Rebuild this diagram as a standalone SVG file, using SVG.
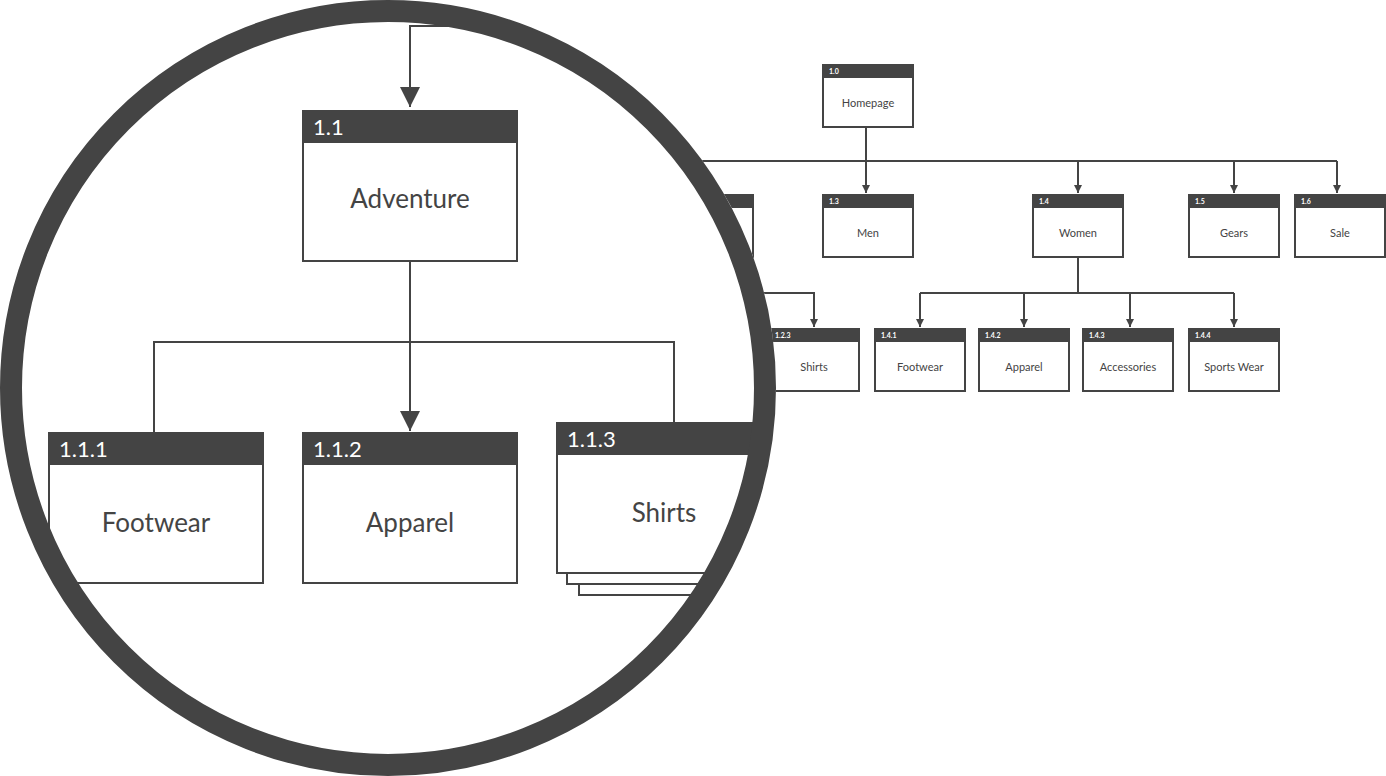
<svg xmlns="http://www.w3.org/2000/svg" width="1386" height="776" viewBox="0 0 1386 776">
<style>
.box{fill:#fff;stroke:#444;stroke-width:2}
.hdr{fill:#444}
.sid{font-family:Lato,"Open Sans",sans-serif;font-size:7px;font-weight:bold;fill:#fff}
.slb{font-family:Lato,"Open Sans",sans-serif;font-size:11px;fill:#444;text-anchor:middle}
.bid{font-family:Lato,"Open Sans",sans-serif;font-size:22px;fill:#fff}
.blb{font-family:Lato,"Open Sans",sans-serif;font-size:26px;fill:#444;text-anchor:middle}
.ln{fill:none;stroke:#444;stroke-width:2}
</style>
<defs>
<marker id="as" viewBox="0 0 10 10" refX="10" refY="5" markerWidth="10" markerHeight="8" markerUnits="userSpaceOnUse" orient="auto"><path d="M0,0 L10,5 L0,10 z" fill="#444"/></marker>
<marker id="ab" viewBox="0 0 10 10" refX="10" refY="5" markerWidth="20" markerHeight="20" markerUnits="userSpaceOnUse" orient="auto"><path d="M0,0 L10,5 L0,10 z" fill="#444"/></marker>
<clipPath id="lens"><circle cx="388" cy="388" r="377"/></clipPath>
</defs>
<rect width="1386" height="776" fill="#fff"/>
<g id="connectors">
<path class="ln" d="M866,127 V193" marker-end="url(#as)"/>
<path class="ln" d="M660,161 H1337"/>
<path class="ln" d="M1078,161 V193" marker-end="url(#as)"/>
<path class="ln" d="M1234,161 V193" marker-end="url(#as)"/>
<path class="ln" d="M1337,161 V193" marker-end="url(#as)"/>
<path class="ln" d="M1078,257 V293"/>
<path class="ln" d="M920,293 H1234"/>
<path class="ln" d="M920,293 V327" marker-end="url(#as)"/>
<path class="ln" d="M1024,293 V327" marker-end="url(#as)"/>
<path class="ln" d="M1130,293 V327" marker-end="url(#as)"/>
<path class="ln" d="M1234,293 V327" marker-end="url(#as)"/>
<path class="ln" d="M700,293 H814 V327" marker-end="url(#as)"/>
</g>
<g id="n1-0"><rect class="box" x="823" y="65" width="90" height="62"/><rect class="hdr" x="822" y="64" width="92" height="14"/><text class="sid" x="829" y="74">1.0</text><text class="slb" x="868" y="107">Homepage</text></g>
<g id="n1-2"><rect class="box" x="663" y="195" width="90" height="62"/><rect class="hdr" x="662" y="194" width="92" height="14"/></g>
<g id="n1-3"><rect class="box" x="823" y="195" width="90" height="62"/><rect class="hdr" x="822" y="194" width="92" height="14"/><text class="sid" x="829" y="204">1.3</text><text class="slb" x="868" y="237">Men</text></g>
<g id="n1-4"><rect class="box" x="1033" y="195" width="90" height="62"/><rect class="hdr" x="1032" y="194" width="92" height="14"/><text class="sid" x="1039" y="204">1.4</text><text class="slb" x="1078" y="237">Women</text></g>
<g id="n1-5"><rect class="box" x="1189" y="195" width="90" height="62"/><rect class="hdr" x="1188" y="194" width="92" height="14"/><text class="sid" x="1195" y="204">1.5</text><text class="slb" x="1234" y="237">Gears</text></g>
<g id="n1-6"><rect class="box" x="1295" y="195" width="90" height="62"/><rect class="hdr" x="1294" y="194" width="92" height="14"/><text class="sid" x="1301" y="204">1.6</text><text class="slb" x="1340" y="237">Sale</text></g>
<g id="n1-2-3"><rect class="box" x="769" y="329" width="90" height="62"/><rect class="hdr" x="768" y="328" width="92" height="14"/><text class="sid" x="775" y="338">1.2.3</text><text class="slb" x="814" y="371">Shirts</text></g>
<g id="n1-4-1"><rect class="box" x="875" y="329" width="90" height="62"/><rect class="hdr" x="874" y="328" width="92" height="14"/><text class="sid" x="881" y="338">1.4.1</text><text class="slb" x="920" y="371">Footwear</text></g>
<g id="n1-4-2"><rect class="box" x="979" y="329" width="90" height="62"/><rect class="hdr" x="978" y="328" width="92" height="14"/><text class="sid" x="985" y="338">1.4.2</text><text class="slb" x="1024" y="371">Apparel</text></g>
<g id="n1-4-3"><rect class="box" x="1083" y="329" width="90" height="62"/><rect class="hdr" x="1082" y="328" width="92" height="14"/><text class="sid" x="1089" y="338">1.4.3</text><text class="slb" x="1128" y="371">Accessories</text></g>
<g id="n1-4-4"><rect class="box" x="1189" y="329" width="90" height="62"/><rect class="hdr" x="1188" y="328" width="92" height="14"/><text class="sid" x="1195" y="338">1.4.4</text><text class="slb" x="1234" y="371">Sports Wear</text></g>
<circle cx="388" cy="388" r="388" fill="#fff"/>
<g id="magnified" clip-path="url(#lens)">
<g id="zoom-connectors">
<path class="ln" d="M560,26 H410 V107" marker-end="url(#ab)"/>
<path class="ln" d="M410,261 V431" marker-end="url(#ab)"/>
<path class="ln" d="M154,432 V342 H674 V422"/>
</g>
<g id="z1-1"><rect class="box" x="303" y="111" width="214" height="150"/><rect class="hdr" x="302" y="110" width="216" height="33"/><text class="bid" x="313" y="135">1.1</text><text class="blb" x="410" y="208">Adventure</text></g>
<g id="z1-1-1"><rect class="box" x="49" y="433" width="214" height="150"/><rect class="hdr" x="48" y="432" width="216" height="33"/><text class="bid" x="59" y="457">1.1.1</text><text class="blb" x="156" y="532">Footwear</text></g>
<g id="z1-1-2"><rect class="box" x="303" y="433" width="214" height="150"/><rect class="hdr" x="302" y="432" width="216" height="33"/><text class="bid" x="313" y="457">1.1.2</text><text class="blb" x="410" y="532">Apparel</text></g>
<g id="z1-1-3">
<rect class="box" x="579" y="445" width="214" height="150"/>
<rect class="box" x="567" y="434" width="214" height="150"/>
<rect class="box" x="557" y="423" width="214" height="150"/>
<rect class="hdr" x="556" y="422" width="216" height="33"/><text class="bid" x="567" y="447">1.1.3</text><text class="blb" x="664" y="522">Shirts</text></g>
</g>
<circle id="lens-ring" cx="388" cy="388" r="377" fill="none" stroke="#444" stroke-width="22"/>
</svg>
